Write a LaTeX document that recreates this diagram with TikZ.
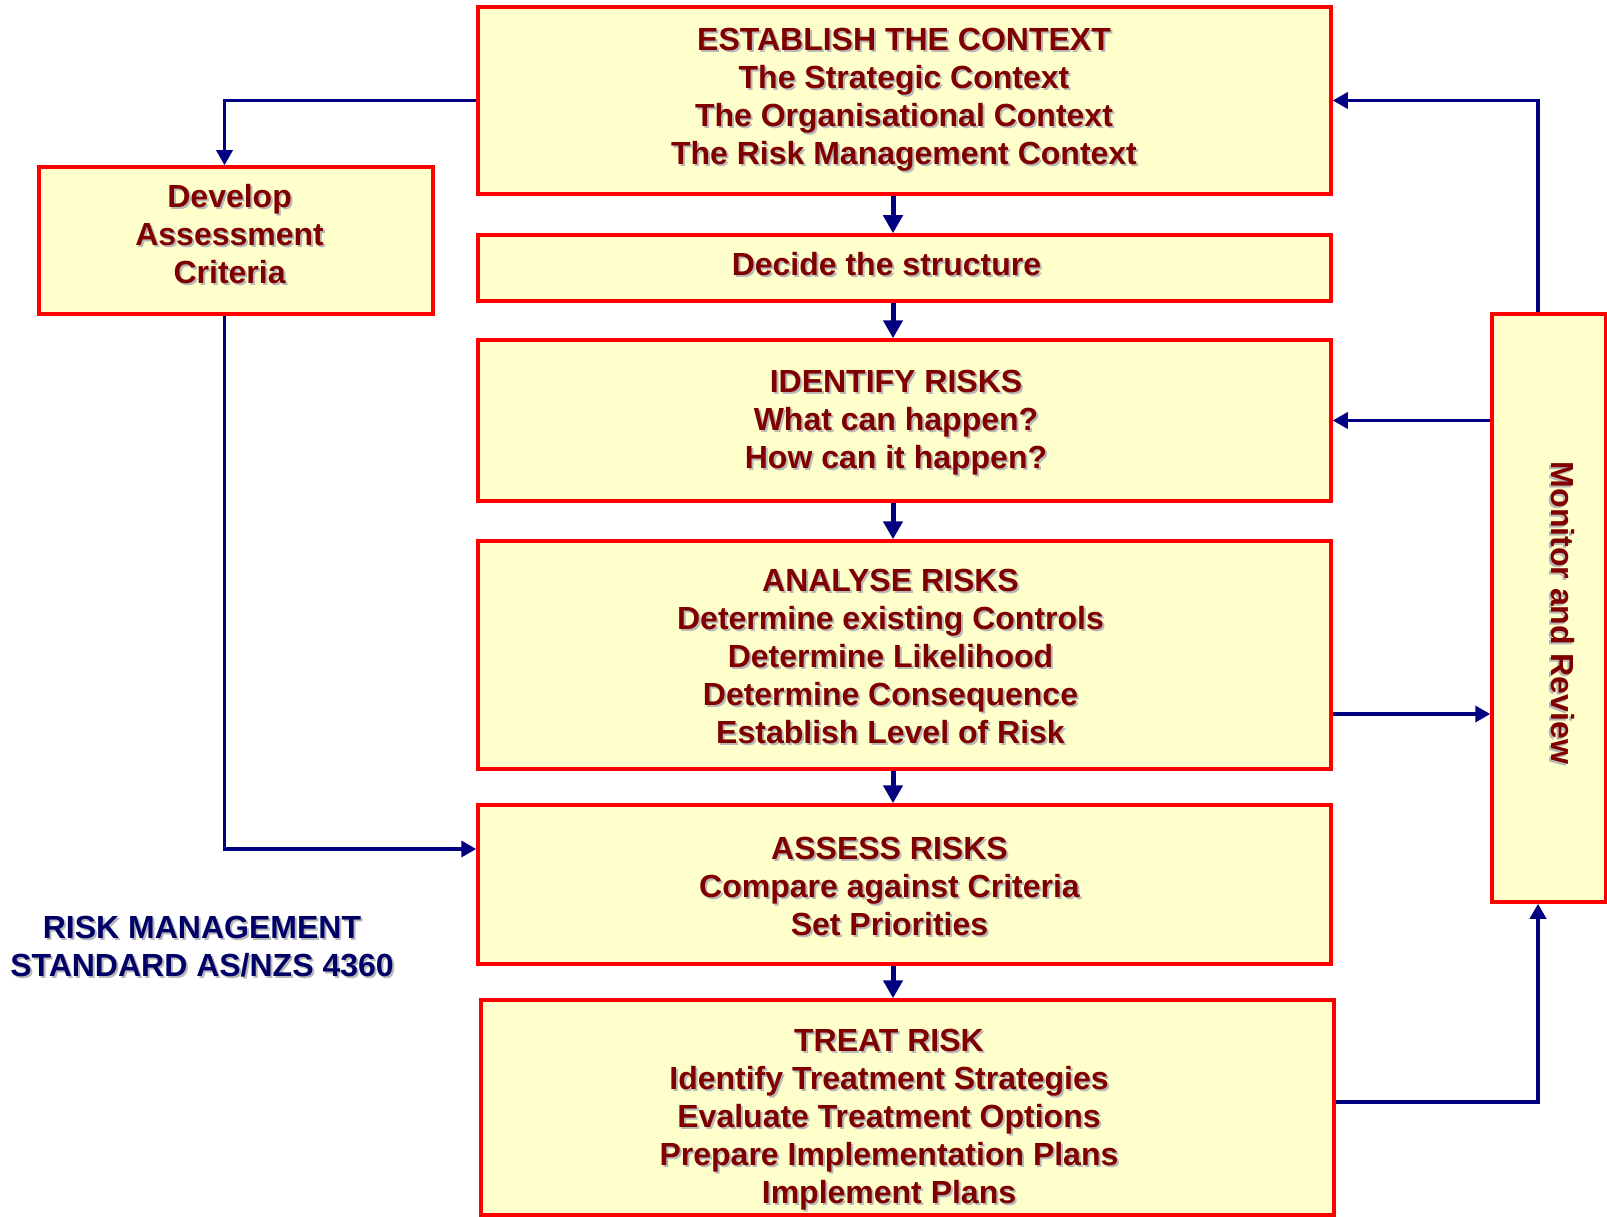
\documentclass[tikz,border=0pt]{standalone}
\usepackage{fontspec}
\setmainfont{Liberation Sans}
\usetikzlibrary{arrows.meta}
\definecolor{boxfill}{HTML}{FFFFCC}
\definecolor{boxline}{HTML}{FF0000}
\definecolor{txtred}{HTML}{800000}
\definecolor{arrnavy}{HTML}{000080}
\definecolor{lblnavy}{HTML}{000066}
\definecolor{shadowgray}{HTML}{B8B8B8}
% text with a light grey drop shadow
\newcommand\shd[1]{\makebox[0pt][l]{\hspace{2pt}\raisebox{-2pt}{\color{shadowgray}#1}}#1}
\tikzset{
  box/.style={draw=boxline, fill=boxfill, line width=3.5pt, rectangle, inner sep=0pt},
  boxtext/.style={text=txtred, align=center, inner sep=0pt,
    font=\fontsize{32pt}{38pt}\selectfont\bfseries},
  arr/.style={draw=arrnavy, line width=3.5pt, -{Triangle[length=15pt,width=16pt]}},
  chain/.style={draw=arrnavy, line width=5pt, -{Triangle[length=18pt,width=19pt]}},
}
\begin{document}
\begin{tikzpicture}[x=1pt,y=-1pt]
\useasboundingbox (0,0) rectangle (1607,1217);

% boxes
\node[box, minimum width=853pt, minimum height=187pt] (context) at (904.5,100.5) {};
\node[box, minimum width=853pt, minimum height=66pt]  (structure) at (904.5,268) {};
\node[box, minimum width=853pt, minimum height=161pt] (identify) at (904.5,420.5) {};
\node[box, minimum width=853pt, minimum height=228pt] (analyse) at (904.5,655) {};
\node[box, minimum width=853pt, minimum height=159pt] (assess) at (904.5,884.5) {};
\node[box, minimum width=853pt, minimum height=215pt] (treat) at (907.5,1107.5) {};
\node[box, minimum width=394pt, minimum height=147pt] (criteria) at (236,240.5) {};
\node[box, minimum width=114pt, minimum height=588pt] (monitor) at (1549,608) {};

% box texts
\node[boxtext] (tcontext) at (904,101) {\shd{ESTABLISH THE CONTEXT}\\\shd{The Strategic Context}\\\shd{The Organisational Context}\\\shd{The Risk Management Context}};
\node[boxtext] (tstructure) at (886.5,265) {\shd{Decide the structure}};
\node[boxtext] (tidentify) at (896,424) {\shd{IDENTIFY RISKS}\\\shd{What can happen?}\\\shd{How can it happen?}};
\node[boxtext] (tanalyse) at (890.5,657) {\shd{ANALYSE RISKS}\\\shd{Determine existing Controls}\\\shd{Determine Likelihood}\\\shd{Determine Consequence}\\\shd{Establish Level of Risk}};
\node[boxtext] (tassess) at (889.5,887) {\shd{ASSESS RISKS}\\\shd{Compare against Criteria}\\\shd{Set Priorities}};
\node[boxtext] (ttreat) at (889,1121) {\shd{TREAT RISK}\\\shd{Identify Treatment Strategies}\\\shd{Evaluate Treatment Options}\\\shd{Prepare Implementation Plans}\\\shd{Implement Plans}};
\node[boxtext] (tcriteria) at (229.6,235.5) {\shd{Develop}\\\shd{Assessment}\\\shd{Criteria}};
\node[boxtext, rotate=-90] (tmonitor) at (1562,613) {\shd{Monitor and Review}};

% title
\node[boxtext, text=lblnavy] (title) at (202,948) {\shd{RISK MANAGEMENT}\\\shd{STANDARD AS/NZS 4360}};

% main chain
\coordinate (vx) at (893,0);
\draw[chain] (context.south -| vx) -- (structure.north -| vx);
\draw[chain] (structure.south -| vx) -- (identify.north -| vx);
\draw[chain] (identify.south -| vx) -- (analyse.north -| vx);
\draw[chain] (analyse.south -| vx) -- (assess.north -| vx);
\draw[chain] (assess.south -| vx) -- (treat.north -| vx);

% assessment criteria loop
\coordinate (c1) at (224.5,100.5);
\draw[arr] (context.west) -- (c1) -- (c1 |- criteria.north);
\coordinate (c2) at (224.5,849);
\draw[arr] (c2 |- criteria.south) -- (c2) -- (c2 -| assess.west);

% monitor and review links
\coordinate (c3) at (1538,100.5);
\draw[arr] (c3 |- monitor.north) -- (c3) -- (c3 -| context.east);
\draw[arr] (monitor.west |- identify.east) -- (identify.east);
\coordinate (c4) at (0,714);
\draw[arr] (analyse.east |- c4) -- (monitor.west |- c4);
\coordinate (c5) at (1538,1102);
\draw[arr] (c5 -| treat.east) -- (c5) -- (c5 |- monitor.south);
\end{tikzpicture}
\end{document}
